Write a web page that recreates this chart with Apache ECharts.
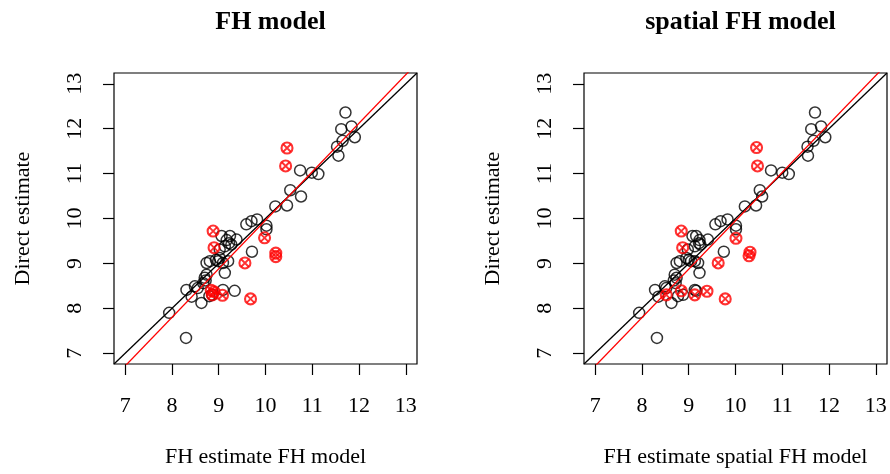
<!DOCTYPE html>
<html>
<head>
<meta charset="utf-8">
<script src="https://cdn.jsdelivr.net/npm/echarts@6/dist/echarts.min.js"></script>
<style>html,body{margin:0;padding:0;background:#fff;}#c{width:890px;height:474px;}</style>
</head>
<body>
<div id="c"></div>
<script>
// Direct estimates (y) with the matching FH and spatial FH estimates (x) - black points
var directBlack = [12.36,11.99,12.05,11.81,11.73,11.60,11.40,11.07,11.02,10.99,10.63,10.49,10.27,10.29,9.98,9.94,9.87,9.84,9.76,9.26,9.61,9.61,9.52,9.53,9.42,9.38,9.31,9.45,9.01,9.05,9.05,9.01,9.12,9.05,9.08,8.79,8.75,8.68,8.56,8.62,8.49,8.41,8.26,8.45,8.12,8.27,8.30,8.41,8.39,7.90,7.34];
var fhBlack     = [11.71,11.62,11.84,11.91,11.65,11.53,11.56,10.74,10.99,11.13,10.53,10.76,10.21,10.46,9.82,9.70,9.59,10.02,10.02,9.71,9.06,9.24,9.17,9.38,9.27,9.13,9.02,9.22,8.74,8.81,8.99,9.09,9.02,9.20,8.94,9.13,8.74,8.70,8.67,8.72,8.49,8.31,8.42,8.55,8.63,8.80,8.86,9.09,9.34,7.94,8.30];
var sfhBlack    = [11.70,11.62,11.83,11.92,11.67,11.54,11.55,10.76,11.00,11.14,10.52,10.57,10.20,10.44,9.83,9.68,9.57,10.01,10.01,9.75,9.08,9.16,9.23,9.41,9.25,9.13,8.98,9.22,8.74,8.81,9.13,9.20,8.95,9.05,9.00,9.23,8.70,8.74,8.72,8.68,8.49,8.28,8.35,8.52,8.63,8.77,8.88,9.13,9.16,7.94,8.32];
// highlighted (red) areas
var directRedFH  = [11.57,11.17,9.72,9.35,9.57,9.23,9.15,9.01,8.40,8.37,8.30,8.29,8.21];
var fhRed        = [10.46,10.43,8.88,8.90,9.98,10.22,10.22,9.56,8.84,8.90,8.86,9.08,9.68];
var directRedSFH = [11.58,11.17,9.72,9.35,9.56,9.25,9.17,9.01,8.30,8.39,8.30,8.38,8.21];
var sfhRed       = [10.45,10.47,8.84,8.87,10.01,10.31,10.29,9.63,8.52,8.84,9.13,9.39,9.78];
// fitted regression lines
var fitFH  = {intercept: -0.85, slope: 1.081};
var fitSFH = {intercept: -0.83, slope: 1.078};
var tickValues = [7,8,9,10,11,12,13];
var axisMin = 6.76, axisMax = 13.24;
var titles = ['FH model', 'spatial FH model'];
var xNames = ['FH estimate FH model', 'FH estimate spatial FH model'];
var yName = 'Direct estimate';

function zip(xs, ys){ return xs.map(function(x,i){ return [x, ys[i]]; }); }
function fitLine(f){ return [[axisMin, f.intercept + f.slope*axisMin],[axisMax, f.intercept + f.slope*axisMax]]; }

var FONT = 'Liberation Serif';
var grids = [
  {left:114, top:73, width:303, height:291, show:true, borderColor:'#000', borderWidth:1.2, backgroundColor:'transparent'},
  {left:584, top:73, width:303, height:291, show:true, borderColor:'#000', borderWidth:1.2, backgroundColor:'transparent'}
];
function xAx(i){
  return {type:'value', gridIndex:i, min:axisMin, max:axisMax,
    name:xNames[i], nameLocation:'middle', nameGap:82,
    nameTextStyle:{fontFamily:FONT, fontSize:22, color:'#000'},
    axisLine:{show:false}, splitLine:{show:false},
    axisTick:{show:true, inside:false, length:11, customValues:tickValues, lineStyle:{color:'#000', width:1.2}},
    axisLabel:{customValues:tickValues, fontFamily:FONT, fontSize:22, color:'#000', margin:31}
  };
}
function yAx(i){
  return {type:'value', gridIndex:i, min:axisMin, max:axisMax,
    name:yName, nameLocation:'middle', nameGap:80, nameRotate:90,
    nameTextStyle:{fontFamily:FONT, fontSize:22, color:'#000'},
    axisLine:{show:false}, splitLine:{show:false},
    axisTick:{show:true, inside:false, length:11, customValues:tickValues, lineStyle:{color:'#000', width:1.2}},
    axisLabel:{customValues:tickValues, fontFamily:FONT, fontSize:22, color:'#000', margin:28, rotate:90}
  };
}
function panelSeries(i, bx, by, rx, ry, fit){
  return [
    {type:'scatter', xAxisIndex:i, yAxisIndex:i, data:zip(bx,by), symbol:'circle', symbolSize:11,
      itemStyle:{color:'rgba(0,0,0,0)', borderColor:'#000', borderWidth:1.5}, silent:true},
    {type:'scatter', xAxisIndex:i, yAxisIndex:i, data:zip(rx,ry), symbol:'circle', symbolSize:11,
      itemStyle:{color:'rgba(0,0,0,0)', borderColor:'#ff0000', borderWidth:2.1}, silent:true},
    {type:'scatter', xAxisIndex:i, yAxisIndex:i, data:zip(rx,ry), symbol:'path://M0,0L10,10M10,0L0,10', symbolSize:7.5,
      itemStyle:{color:'rgba(0,0,0,0)', borderColor:'#ff0000', borderWidth:1.9}, silent:true},
    {type:'line', xAxisIndex:i, yAxisIndex:i, data:[[axisMin,axisMin],[axisMax,axisMax]], showSymbol:false, clip:true,
      lineStyle:{color:'#000', width:1.3}, silent:true},
    {type:'line', xAxisIndex:i, yAxisIndex:i, data:fitLine(fit), showSymbol:false, clip:true,
      lineStyle:{color:'#ff0000', width:1.3}, silent:true}
  ];
}
var chart = echarts.init(document.getElementById('c'), null, {renderer:'canvas'});
chart.setOption({
  animation:false,
  backgroundColor:'#fff',
  title:[
    {text:titles[0], left:265.5, textAlign:'center', top:4, textStyle:{fontFamily:FONT, fontSize:26, fontWeight:'bold', color:'#000'}},
    {text:titles[1], left:735.5, textAlign:'center', top:4, textStyle:{fontFamily:FONT, fontSize:26, fontWeight:'bold', color:'#000'}}
  ],
  grid:grids,
  xAxis:[xAx(0), xAx(1)],
  yAxis:[yAx(0), yAx(1)],
  series: panelSeries(0, fhBlack, directBlack, fhRed, directRedFH, fitFH)
    .concat(panelSeries(1, sfhBlack, directBlack, sfhRed, directRedSFH, fitSFH))
});
</script>
</body>
</html>
